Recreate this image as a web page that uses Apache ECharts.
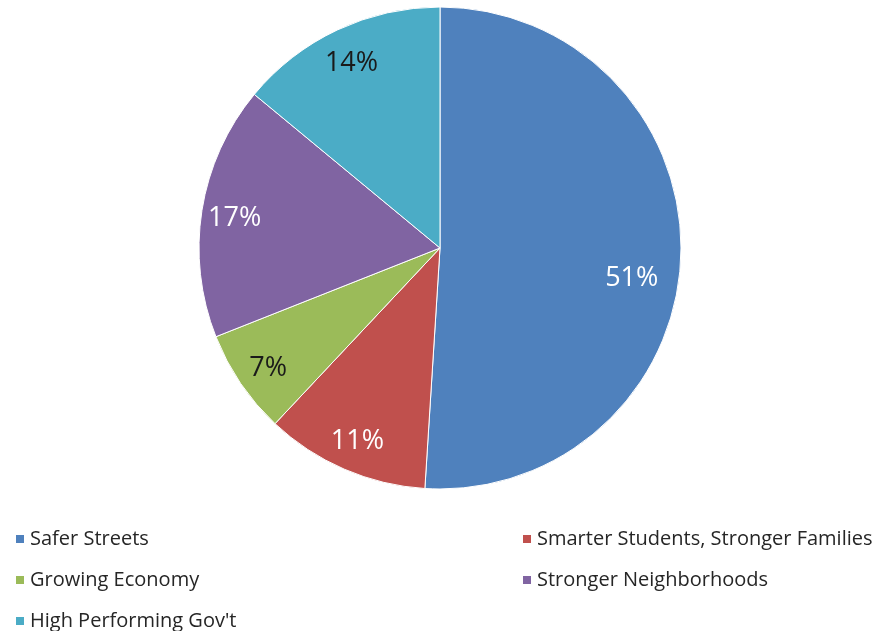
<!DOCTYPE html>
<html>
<head>
<meta charset="utf-8">
<title>Priority Areas</title>
<script src="https://cdn.jsdelivr.net/npm/echarts@6/dist/echarts.min.js"></script>
<style>
  html, body { margin: 0; padding: 0; background: #ffffff; }
  #chart { width: 885px; height: 631px; }
</style>
</head>
<body>
<div id="chart"></div>
<script>
// Share of focus by priority area (percent)
const categories = [
  'Safer Streets',
  'Smarter Students, Stronger Families',
  'Growing Economy',
  'Stronger Neighborhoods',
  "High Performing Gov't"
];
const shares = [51, 11, 7, 17, 14];
const sliceColors = ['#4F81BD', '#C0504D', '#9BBB59', '#8064A2', '#4BACC6'];
const labelColors = ['#ffffff', '#ffffff', '#1a1a1a', '#ffffff', '#1a1a1a'];

const leftLegend = [categories[0], categories[2], categories[4]];
const rightLegend = [categories[1], categories[3]];

const FONT = '"Open Sans", "Noto Sans", sans-serif';
const CX = 440, CY = 248, R = 241;

const sliceData = categories.map((name, i) => ({
  name,
  value: shares[i],
  itemStyle: { color: sliceColors[i] }
}));

// Transparent ring carrying the percentage labels, so they sit near the rim
const labelData = categories.map((name, i) => ({
  name,
  value: shares[i],
  label: i === 0
    ? { color: labelColors[i], offset: [-16, 24] }   // large slice: label nudged down-left
    : { color: labelColors[i], offset: [0, 3] }
}));

const legendText = { fontFamily: FONT, fontSize: 20, color: '#262626', lineHeight: 20 };

const legendBase = {
  orient: 'vertical',
  top: 529,
  padding: 0,
  height: 110,
  icon: 'rect',
  itemWidth: 10,
  itemHeight: 10,
  itemGap: 21,
  textStyle: legendText
};

const chart = echarts.init(document.getElementById('chart'), null, { renderer: 'canvas' });
chart.setOption({
  animation: false,
  backgroundColor: '#ffffff',
  legend: [
    Object.assign({}, legendBase, { data: leftLegend, left: 14 }),
    Object.assign({}, legendBase, { data: rightLegend, left: 521 })
  ],
  series: [
    {
      type: 'pie',
      center: [CX, CY],
      radius: [0, R],
      startAngle: 90,
      clockwise: true,
      data: sliceData,
      label: { show: false },
      labelLine: { show: false },
      itemStyle: { borderColor: '#ffffff', borderWidth: 1 },
      emphasis: { disabled: true }
    },
    {
      type: 'pie',
      center: [CX, CY],
      radius: [R * 0.7, R],
      startAngle: 90,
      clockwise: true,
      silent: true,
      data: labelData,
      itemStyle: { color: 'rgba(0,0,0,0)', borderWidth: 0 },
      label: {
        show: true,
        position: 'inside',
        formatter: '{c}%',
        fontFamily: FONT,
        fontSize: 27
      },
      labelLine: { show: false },
      emphasis: { disabled: true }
    }
  ]
});
</script>
</body>
</html>
